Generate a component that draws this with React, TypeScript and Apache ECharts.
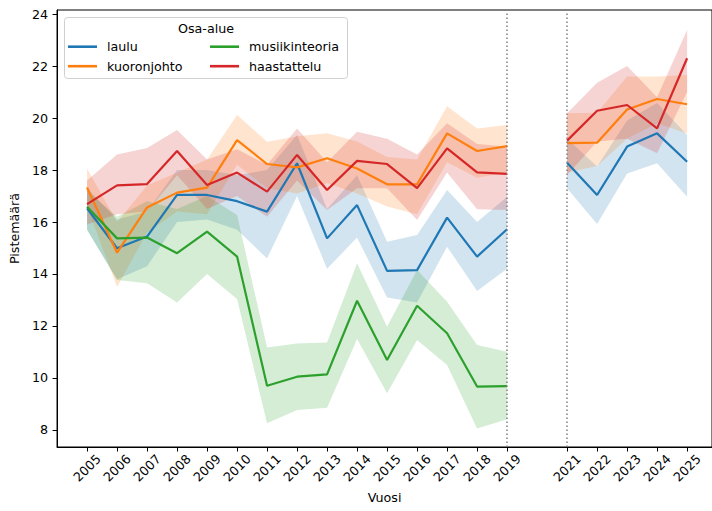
import React, { useEffect, useRef } from "react";
import * as echarts from "echarts";

const years = [2005, 2006, 2007, 2008, 2009, 2010, 2011, 2012, 2013, 2014, 2015, 2016, 2017, 2018, 2019, 2021, 2022, 2023, 2024, 2025];
const yTicks = [8, 10, 12, 14, 16, 18, 20, 22, 24];

const laulu = [16.53, 14.99, 15.44, 17.04, 17.04, 16.8, 16.4, 18.26, 15.37, 16.65, 14.12, 14.15, 16.17, 14.67, 15.72, 18.28, 17.04, 18.9, 19.41, 18.32];
const lauluLo = [15.7, 13.8, 14.3, 16.0, 16.1, 15.7, 14.6, 17.0, 14.2, 15.4, 13.1, 12.9, 15.05, 13.35, 14.2, 17.3, 15.92, 17.87, 18.26, 16.97];
const lauluHi = [17.3, 16.1, 16.4, 18.0, 18.0, 17.8, 18.0, 19.35, 16.5, 17.8, 15.24, 15.5, 17.23, 16.0, 16.97, 19.2, 18.13, 19.9, 20.58, 19.35];

const kuoronjohto = [17.33, 14.82, 16.56, 17.13, 17.32, 19.15, 18.23, 18.1, 18.45, 18.06, 17.45, 17.45, 19.41, 18.73, 18.92, 19.03, 19.05, 20.33, 20.73, 20.53];
const kuoronjohtoLo = [16.6, 13.5, 15.6, 16.4, 16.3, 18.2, 17.3, 17.1, 17.5, 17.1, 16.6, 16.3, 18.3, 17.7, 17.9, 17.9, 18.15, 19.2, 19.8, 19.4];
const kuoronjohtoHi = [18.06, 16.0, 17.4, 17.9, 18.4, 20.12, 19.09, 19.3, 19.41, 19.1, 18.5, 18.4, 20.45, 19.6, 19.73, 20.18, 20.2, 21.6, 21.6, 21.65];

const musiikinteoria = [16.59, 15.37, 15.4, 14.8, 15.63, 14.67, 9.7, 10.05, 10.14, 12.97, 10.69, 12.78, 11.72, 9.67, 9.69, null, null, null, null, null];
const musiikinteoriaLo = [15.7, 13.77, 13.64, 12.9, 14.0, 13.04, 8.26, 8.77, 8.86, 11.5, 9.41, 11.46, 10.5, 8.06, 8.41, null, null, null, null, null];
const musiikinteoriaHi = [17.2, 16.2, 16.8, 16.5, 17.0, 16.27, 11.17, 11.33, 11.37, 14.41, 11.97, 14.15, 12.93, 11.27, 11.01, null, null, null, null, null];

const haastattelu = [16.69, 17.41, 17.46, 18.73, 17.42, 17.9, 17.17, 18.58, 17.23, 18.35, 18.23, 17.3, 18.83, 17.91, 17.85, 19.13, 20.28, 20.5, 19.6, 22.3];
const haastatteluLo = [15.9, 16.3, 16.4, 17.8, 16.5, 17.0, 16.2, 17.6, 16.46, 17.3, 17.3, 16.08, 17.9, 16.49, 16.46, 17.8, 19.1, 19.2, 18.64, 21.0];
const haastatteluHi = [17.6, 18.6, 18.85, 19.54, 18.4, 18.8, 18.2, 19.6, 18.3, 19.47, 19.2, 18.6, 19.8, 19.0, 18.9, 20.18, 21.36, 22.0, 20.8, 23.38];

const gapLines = [2019, 2021];

const FONT = "DejaVu Sans";

type Group = { name: string; color: string; mean: (number | null)[]; lo: (number | null)[]; hi: (number | null)[] };

const groups: Group[] = [
  { name: "laulu", color: "#1f77b4", mean: laulu, lo: lauluLo, hi: lauluHi },
  { name: "kuoronjohto", color: "#ff7f0e", mean: kuoronjohto, lo: kuoronjohtoLo, hi: kuoronjohtoHi },
  { name: "musiikinteoria", color: "#2ca02c", mean: musiikinteoria, lo: musiikinteoriaLo, hi: musiikinteoriaHi },
  { name: "haastattelu", color: "#d62728", mean: haastattelu, lo: haastatteluLo, hi: haastatteluHi },
];

function segmentsOf(g: Group): number[][] {
  const segs: number[][] = [];
  let cur: number[] = [];
  for (let i = 0; i < years.length; i++) {
    const ok = g.mean[i] != null && g.lo[i] != null && g.hi[i] != null;
    const consecutive = i > 0 && years[i] - years[i - 1] === 1;
    if (!ok || !consecutive) {
      if (cur.length) segs.push(cur);
      cur = [];
    }
    if (ok) cur.push(i);
  }
  if (cur.length) segs.push(cur);
  return segs;
}

function lineData(g: Group) {
  const out: any[] = [];
  for (let i = 0; i < years.length; i++) {
    out.push([years[i], g.mean[i]]);
    if (i < years.length - 1 && years[i + 1] - years[i] > 1) {
      out.push([(years[i] + years[i + 1]) / 2, null]);
    }
  }
  return out;
}

export default function App() {
  const ref = useRef<HTMLDivElement>(null);
  useEffect(() => {
    if (!ref.current) return;
    const chart = echarts.init(ref.current, null, { renderer: "svg" });

    const bandSeries = groups.map((g) => {
      const segs = segmentsOf(g);
      return {
        type: "custom",
        name: g.name + "-band",
        z: 1,
        silent: true,
        coordinateSystem: "cartesian2d",
        data: segs.map((s) => [years[s[0]], g.lo[s[0]] as number]),
        encode: { x: 0, y: 1 },
        renderItem: (params: any, api: any) => {
          const s = segs[params.dataIndex];
          const pts: number[][] = [];
          for (const i of s) pts.push(api.coord([years[i], g.hi[i]]));
          for (let k = s.length - 1; k >= 0; k--) pts.push(api.coord([years[s[k]], g.lo[s[k]]]));
          return {
            type: "polygon",
            shape: { points: pts },
            style: { fill: g.color, opacity: 0.2, stroke: "none" },
          };
        },
      };
    });

    const lineSeries = groups.map((g, idx) => ({
      type: "line",
      name: g.name,
      z: 3,
      color: g.color,
      symbol: "none",
      showSymbol: false,
      connectNulls: false,
      lineStyle: { color: g.color, width: 2.2 },
      itemStyle: { color: g.color },
      data: lineData(g),
      markLine:
        idx === 0
          ? {
              silent: true,
              symbol: ["none", "none"],
              label: { show: false },
              lineStyle: { color: "#808080", type: [1.5, 2.5], width: 1.5 },
              data: gapLines.map((y) => ({ xAxis: y })),
              z: 4,
            }
          : undefined,
    }));

    const legendCommon = {
      orient: "vertical",
      icon: "rect",
      itemWidth: 29,
      itemHeight: 2.6,
      itemGap: 4.5,
      padding: 0,
      z: 20,
      selectedMode: false,
      textStyle: { fontFamily: FONT, fontSize: 12.7, color: "#000", lineHeight: 15, padding: [0, 0, 0, 5] },
    };

    chart.setOption({
      animation: false,
      backgroundColor: "#fff",
      textStyle: { fontFamily: FONT },
      grid: { left: 57, top: 10, right: 0, bottom: 64, show: true, borderColor: "#000", borderWidth: 1, containLabel: false },
      xAxis: {
        type: "value",
        min: 2004,
        max: 2025.83,
        name: "Vuosi",
        nameLocation: "middle",
        nameGap: 44,
        nameTextStyle: { fontFamily: FONT, fontSize: 12.7, color: "#000" },
        axisLine: { show: true, lineStyle: { color: "#000", width: 1 } },
        axisTick: { show: true, length: 4.5, lineStyle: { color: "#000" }, customValues: years },
        axisLabel: {
          customValues: years,
          rotate: 45,
          align: "center",
          verticalAlign: "middle",
          margin: 21,
          fontFamily: FONT,
          fontSize: 12.7,
          color: "#000",
          formatter: (v: number) => String(v),
        },
        splitLine: { show: false },
      },
      yAxis: {
        type: "value",
        min: 7.346,
        max: 24.154,
        name: "Pistemäärä",
        nameLocation: "middle",
        nameGap: 30,
        nameRotate: 90,
        nameTextStyle: { fontFamily: FONT, fontSize: 12.7, color: "#000" },
        axisLine: { show: true, lineStyle: { color: "#000", width: 1 } },
        axisTick: { show: true, length: 4.5, lineStyle: { color: "#000" }, customValues: yTicks },
        axisLabel: { customValues: yTicks, margin: 9, fontFamily: FONT, fontSize: 12.7, color: "#000" },
        splitLine: { show: false },
      },
      legend: [
        { ...legendCommon, left: 68, top: 39.2, data: ["laulu", "kuoronjohto"] },
        { ...legendCommon, left: 210, top: 39.2, data: ["musiikinteoria", "haastattelu"] },
      ],
      graphic: [
        {
          type: "rect",
          z: 10,
          shape: { x: 64.5, y: 17.5, width: 283, height: 61, r: 3 },
          style: { fill: "rgba(255,255,255,0.8)", stroke: "#d0d0d0", lineWidth: 1 },
        },
        {
          type: "text",
          z: 21,
          x: 206,
          y: 28.5,
          style: { text: "Osa-alue", fontFamily: FONT, fontSize: 12.7, fill: "#000", align: "center", verticalAlign: "middle" },
        },
      ],
      series: [...bandSeries, ...lineSeries],
    } as any);

    return () => chart.dispose();
  }, []);

  return <div ref={ref} style={{ position: "fixed", left: 0, top: 0, width: 712, height: 511 }} />;
}
